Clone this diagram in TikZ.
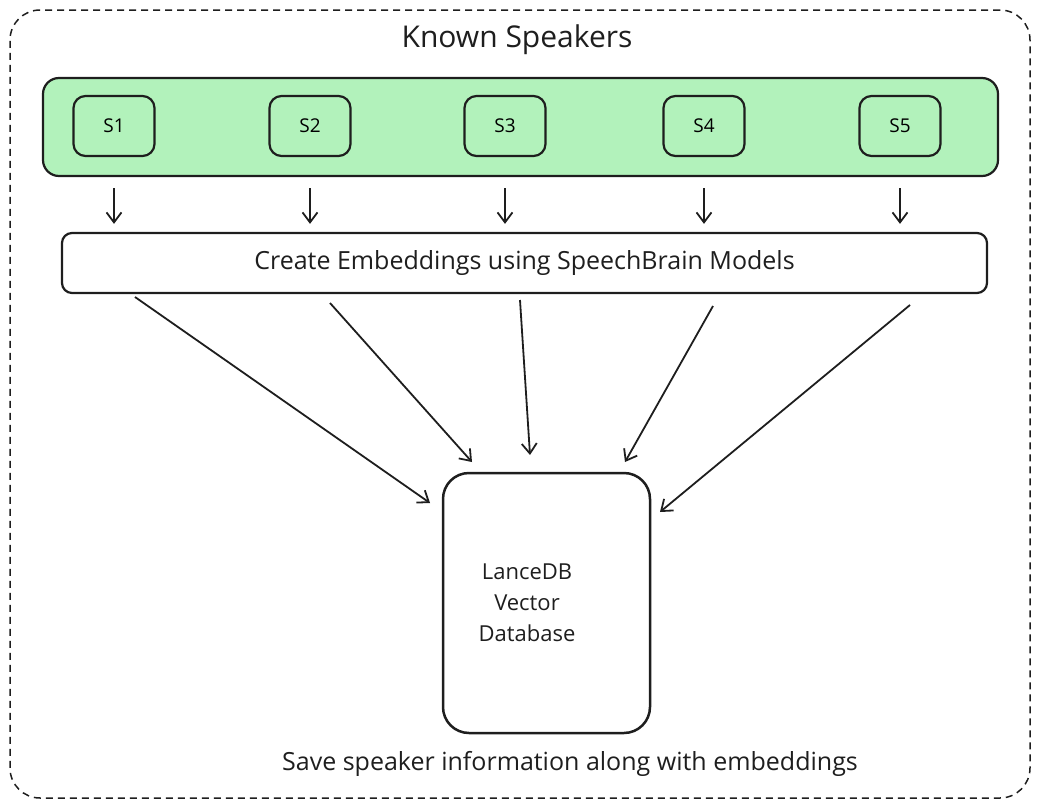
\documentclass[tikz,border=0pt]{standalone}
\usepackage{fontspec}
\setmainfont{Open Sans}
\usetikzlibrary{arrows.meta}
\definecolor{ink}{HTML}{1E1E1E}
\definecolor{mint}{HTML}{B2F2BB}
\tikzset{
	box/.style={draw=ink, line width=2.2pt, rounded corners=12pt, inner sep=0pt},
	spk/.style={box, minimum width=81pt, minimum height=60pt, font=\fontsize{19}{22}\selectfont},
	arr/.style={-{Straight Barb[length=10pt,width=15pt]}, draw=ink, line width=1.8pt},
	txt/.style={font=\fontsize{25}{31}\selectfont, text=ink},
}
\begin{document}
\begin{tikzpicture}[x=1pt, y=-1pt]
\useasboundingbox (0,0) rectangle (1037,806);

% NODES
\node[draw=ink, line width=1.5pt, dash pattern=on 7pt off 5pt, rounded corners=30pt,
	minimum width=1020pt, minimum height=788pt] (frame) at (520,404) {};
\node[txt, font=\fontsize{30}{34}\selectfont] (title) at (517,40) {Known Speakers};

\node[box, fill=mint, minimum width=955pt, minimum height=98pt, rounded corners=16pt] (band) at (520.5,127) {};
\foreach \i/\x in{1/114, 2/310, 3/505, 4/704, 5/900}{
	\node[spk] (s\i) at (\x,126) {S\i};
}

\node[box, txt, minimum width=925pt, minimum height=60pt, rounded corners=10pt] (embed) at (524.5,263) {Create Embeddings using SpeechBrain Models};

\node[box, line width=2.5pt, minimum width=207pt, minimum height=260pt, rounded corners=26pt] (db) at (546.5,603) {};
\node[txt, align=center, font=\fontsize{22}{31}\selectfont] (dbtext) at (527,603) {LanceDB\\Vector\\Database};

\node[txt] (note) at (570,764) {Save speaker information along with embeddings};

% ARCS
\foreach \i in{1,...,5}{
	\draw[arr, shorten <=11pt, shorten >=8pt] (s\i |- band.south) -- (s\i |- embed.north);
}

\foreach \i/\a/\b/\c/\d in{
	1/135/297/430/503, 2/330/303/472/462, 3/520/300/530/455, 4/713/306/625/462, 5/910/305/660/512%
}{
	\coordinate (e\i) at (\a,\b);
	\coordinate (d\i) at (\c,\d);
	\draw[arr] (e\i) -- (d\i);
}

\end{tikzpicture}
\end{document}
